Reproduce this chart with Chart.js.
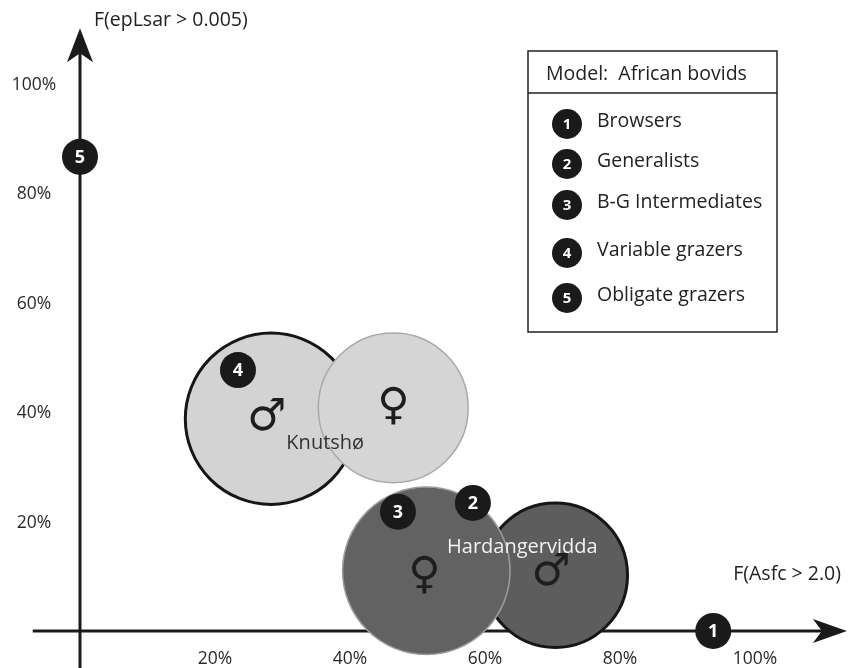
<!DOCTYPE html>
<html>
<head>
<meta charset="utf-8">
<script src="https://cdn.jsdelivr.net/npm/chart.js@4/dist/chart.umd.min.js"></script>
<style>
  body { margin: 0; background: #fff; }
  #wrap { width: 855px; height: 668px; position: relative; }
</style>
</head>
<body>
<div id="wrap"><canvas id="myChart" width="855" height="668"></canvas></div>
<script>
// tick labels
const xTicks = [20, 40, 60, 80, 100];
const yTicks = [20, 40, 60, 80, 100];
const xTitle = 'F(Asfc > 2.0)';
const yTitle = 'F(epLsar > 0.005)';

// model groups (African bovids)
const groupNums = ['1', '2', '3', '4', '5'];
const groupNames = ['Browsers', 'Generalists', 'B-G Intermediates', 'Variable grazers', 'Obligate grazers'];
const groupX = [93.8, 58.2, 47.1, 23.4, 0];
const groupY = [0, 23.4, 21.8, 47.7, 86.7];

// reindeer populations, by sex (x, y, spread in % of x axis)
const knutMaleX = 28.3, knutMaleY = 38.8, knutMaleR = 12.7;
const knutFemX = 46.4, knutFemY = 40.8, knutFemR = 11.1;
const hardFemX = 51.3, hardFemY = 11.0, hardFemR = 12.4;
const hardMaleX = 70.4, hardMaleY = 10.2, hardMaleR = 10.7;

const FONT = '"Open Sans", "Noto Sans", sans-serif';

// radius given in x-axis units -> pixels
function radiusFrom(spread) {
    return function(ctx) {
        const sx = ctx.chart.scales.x;
        return Math.abs(sx.getPixelForValue(spread) - sx.getPixelForValue(0));
    };
}

function arrowHead(c, tipX, tipY, dir) {
    // dir: 'right' or 'up'
    c.beginPath();
    if (dir === 'right') {
        c.moveTo(tipX, tipY);
        c.lineTo(tipX - 34, tipY - 12);
        c.lineTo(tipX - 25, tipY);
        c.lineTo(tipX - 34, tipY + 12);
    } else {
        c.moveTo(tipX, tipY);
        c.lineTo(tipX - 13, tipY + 34);
        c.lineTo(tipX, tipY + 25);
        c.lineTo(tipX + 13, tipY + 34);
    }
    c.closePath();
    c.fill();
}

const axesPlugin = {
    id: 'axes',
    beforeDatasetsDraw(chart) {
        const c = chart.ctx;
        const sx = chart.scales.x, sy = chart.scales.y;
        const x0 = sx.getPixelForValue(0), y0 = sy.getPixelForValue(0);
        c.save();
        c.strokeStyle = '#1a1a1a';
        c.fillStyle = '#1a1a1a';
        c.lineWidth = 3;
        // x axis
        c.beginPath();
        c.moveTo(sx.getPixelForValue(-7), y0);
        c.lineTo(sx.getPixelForValue(112.5), y0);
        c.stroke();
        arrowHead(c, sx.getPixelForValue(113.6), y0, 'right');
        // y axis
        c.beginPath();
        c.moveTo(x0, sy.getPixelForValue(-6.8));
        c.lineTo(x0, sy.getPixelForValue(108.5));
        c.stroke();
        arrowHead(c, x0, sy.getPixelForValue(110.2), 'up');

        // tick labels
        c.fillStyle = '#2a2a2a';
        c.font = '17.5px ' + FONT;
        c.textAlign = 'center';
        c.textBaseline = 'middle';
        xTicks.forEach(v => c.fillText(v + '%', sx.getPixelForValue(v), sy.getPixelForValue(-5.2)));
        yTicks.forEach(v => c.fillText(v + '%', sx.getPixelForValue(-6.8), sy.getPixelForValue(v) + 1));

        // axis titles
        c.font = '19.5px ' + FONT;
        c.fillStyle = '#222';
        c.textAlign = 'left';
        c.fillText(yTitle, x0 + 14, 20);
        c.textAlign = 'right';
        c.fillText(xTitle, 841, sy.getPixelForValue(10.3));
        c.restore();
    }
};

const labelPlugin = {
    id: 'marks',
    afterDatasetsDraw(chart) {
        const c = chart.ctx;
        c.save();
        c.textAlign = 'center';
        c.textBaseline = 'middle';
        // numbers in group badges
        const badges = chart.getDatasetMeta(0).data;
        c.fillStyle = '#fff';
        c.font = 'bold 18px ' + FONT;
        badges.forEach((pt, i) => c.fillText(groupNums[i], pt.x, pt.y + 1));

        // sex symbols and population names
        const sym = (idx, ch, dx, dy) => {
            const pt = chart.getDatasetMeta(idx).data[0];
            c.fillStyle = '#1e1e1e';
            c.font = '44px "DejaVu Sans", sans-serif';
            c.fillText(ch, pt.x + dx, pt.y + dy);
        };
        sym(1, '\u2640', 0, 0);
        sym(2, '\u2640', -2, 6);
        sym(3, '\u2642', -4, 0);
        sym(4, '\u2642', -4, -2);

        const kf = chart.getDatasetMeta(1).data[0];
        const hf = chart.getDatasetMeta(2).data[0];
        c.font = '20px ' + FONT;
        c.fillStyle = '#333';
        c.fillText('Knutsh\u00f8', kf.x - 68, kf.y + 35);
        c.fillStyle = '#f2f2f2';
        c.fillText('Hardangervidda', hf.x + 96, hf.y - 24);
        c.restore();

        drawLegend(c);
    }
};

function drawLegend(c) {
    const left = 528, top = 51, w = 249, h = 281;
    const rowY = [122, 162, 203, 251, 296];
    c.save();
    c.fillStyle = '#fff';
    c.fillRect(left, top, w, h);
    c.strokeStyle = '#222';
    c.lineWidth = 1.5;
    c.strokeRect(left, top, w, h);
    c.beginPath();
    c.moveTo(left, top + 42);
    c.lineTo(left + w, top + 42);
    c.stroke();
    c.fillStyle = '#222';
    c.font = '19.5px ' + FONT;
    c.textBaseline = 'middle';
    c.textAlign = 'left';
    c.fillText('Model:  African bovids', left + 18, top + 23);
    groupNames.forEach((name, i) => {
        const cy = rowY[i];
        c.fillStyle = '#1a1a1a';
        c.beginPath();
        c.arc(left + 39, cy + 2, 15, 0, Math.PI * 2);
        c.fill();
        c.fillStyle = '#fff';
        c.font = 'bold 15px ' + FONT;
        c.textAlign = 'center';
        c.fillText(groupNums[i], left + 39, cy + 3);
        c.fillStyle = '#222';
        c.font = '19.5px ' + FONT;
        c.textAlign = 'left';
        c.fillText(name, left + 69, cy - 1);
    });
    c.restore();
}

const ctx = document.getElementById('myChart').getContext('2d');
new Chart(ctx, {
    type: 'scatter',
    data: {
        datasets: [
            {
                label: 'Model groups',
                data: groupX.map((x, i) => ({ x: x, y: groupY[i] })),
                backgroundColor: '#1a1a1a',
                borderColor: '#1a1a1a',
                pointRadius: 18,
                borderWidth: 0
            },
            {
                label: 'Knutsh\u00f8 female',
                data: [{ x: knutFemX, y: knutFemY }],
                backgroundColor: '#d5d5d5',
                borderColor: '#a9a9a9',
                borderWidth: 1.5,
                pointRadius: radiusFrom(knutFemR)
            },
            {
                label: 'Hardangervidda female',
                data: [{ x: hardFemX, y: hardFemY }],
                backgroundColor: '#626262',
                borderColor: '#9c9c9c',
                borderWidth: 1.5,
                pointRadius: radiusFrom(hardFemR)
            },
            {
                label: 'Knutsh\u00f8 male',
                data: [{ x: knutMaleX, y: knutMaleY }],
                backgroundColor: '#d3d3d3',
                borderColor: '#161616',
                borderWidth: 3,
                pointRadius: radiusFrom(knutMaleR)
            },
            {
                label: 'Hardangervidda male',
                data: [{ x: hardMaleX, y: hardMaleY }],
                backgroundColor: '#5d5d5d',
                borderColor: '#161616',
                borderWidth: 3,
                pointRadius: radiusFrom(hardMaleR)
            }
        ]
    },
    options: {
        responsive: false,
        animation: false,
        layout: { padding: 0, autoPadding: false },
        plugins: {
            legend: { display: false },
            tooltip: { enabled: false }
        },
        scales: {
            x: { type: 'linear', min: -11.85, max: 114.8, display: false },
            y: { type: 'linear', min: -6.77, max: 115.36, display: false }
        }
    },
    plugins: [axesPlugin, labelPlugin]
});
</script>
</body>
</html>
